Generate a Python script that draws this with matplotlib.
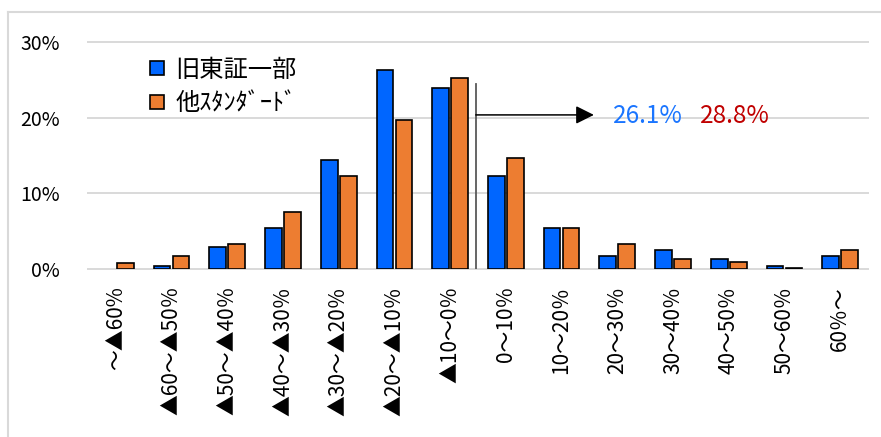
"""Distribution of returns: former TSE 1st section vs. other Standard-market stocks."""

import matplotlib

matplotlib.use("Agg")

import matplotlib.pyplot as plt
import numpy as np
from matplotlib.lines import Line2D

plt.rcParams["font.family"] = ["Noto Sans CJK JP", "DejaVu Sans"]

CATEGORIES = [
    "～▲60%", "▲60～▲50％", "▲50～▲40％", "▲40～▲30％", "▲30～▲20％",
    "▲20～▲10％", "▲10～0％", "0～10％", "10～20％", "20～30％",
    "30～40％", "40～50％", "50～60％", "60％～",
]
FORMER_FIRST = [0.0, 0.5, 2.9, 5.5, 14.4, 26.3, 23.9, 12.3, 5.5, 1.8, 2.6, 1.3, 0.5, 1.8]
OTHER_STANDARD = [0.8, 1.8, 3.4, 7.6, 12.3, 19.7, 25.2, 14.7, 5.5, 3.4, 1.3, 1.0, 0.2, 2.6]
SERIES_NAMES = ["旧東証一部", "他ｽﾀﾝﾀﾞｰﾄﾞ"]
POSITIVE_SHARE = ["26.1%", "28.8%"]

BLUE = "#0066FF"
ORANGE = "#ED7D31"
GRID = "#D9D9D9"


def draw_series(ax, positions, values, colour):
    # empty classes get no outline, so a zero bar leaves no stray line on the axis
    edges = ["black" if v > 0 else "none" for v in values]
    ax.bar(positions, values, 0.30, color=colour, edgecolor=edges, linewidth=1.2, zorder=3)


fig = plt.figure(figsize=(8.81, 4.37), dpi=100)
ax = fig.add_axes([88 / 881, 1 - 269.3 / 437, 780 / 881, (269.3 - 41.7) / 437])

x = np.arange(len(CATEGORIES))
draw_series(ax, x - 0.17, FORMER_FIRST, BLUE)
draw_series(ax, x + 0.17, OTHER_STANDARD, ORANGE)

ax.set_xlim(-0.5, len(CATEGORIES) - 0.5)
ax.set_ylim(0, 30)
ax.set_yticks([0, 10, 20, 30])
ax.set_yticklabels([f"{v}%" for v in (0, 10, 20, 30)], fontsize=14)
ax.set_xticks(x)
ax.set_xticklabels(CATEGORIES, rotation=90, fontsize=15, va="top", ha="center")
ax.tick_params(axis="y", length=0, pad=20)
ax.tick_params(axis="x", length=0, pad=12)
for spine in ax.spines.values():
    spine.set_visible(False)
ax.grid(axis="y", color=GRID, linewidth=1.4, zorder=0)
for gl in ax.get_ygridlines():
    gl.set_clip_on(False)

# bracket marking the positive-return side
ax.plot([6.46, 6.46], [0, 24.4], color="#595959", linewidth=1.3, zorder=4)
ax.annotate(
    "", xy=(8.58, 20.35), xytext=(6.46, 20.35),
    arrowprops=dict(arrowstyle="-|>,head_length=1.1,head_width=0.55",
                    color="black", linewidth=1.1, shrinkA=0, shrinkB=0),
    zorder=4,
)
ax.text(8.93, 20.2, POSITIVE_SHARE[0], color="#1A75FF", fontsize=17.5, va="center", ha="left")
ax.text(10.48, 20.2, POSITIVE_SHARE[1], color="#C00000", fontsize=17.5, va="center", ha="left")

handles = [
    Line2D([], [], marker="s", linestyle="", markersize=10, markerfacecolor=c,
           markeredgecolor="black", markeredgewidth=1.2, label=n)
    for c, n in zip((BLUE, ORANGE), SERIES_NAMES)
]
ax.legend(handles=handles, loc="upper left", bbox_to_anchor=(0.05, 1.03), frameon=False,
          fontsize=17.5, handlelength=0.7, handletextpad=0.4, labelspacing=0.3)

# chart-area border (top and left edges visible)
fig.add_artist(Line2D([8 / 881, 1], [1 - 11.5 / 437] * 2, color=GRID, linewidth=1.5))
fig.add_artist(Line2D([8 / 881] * 2, [0, 1 - 11.5 / 437], color=GRID, linewidth=1.5))

fig.savefig("out.png", dpi=100)
